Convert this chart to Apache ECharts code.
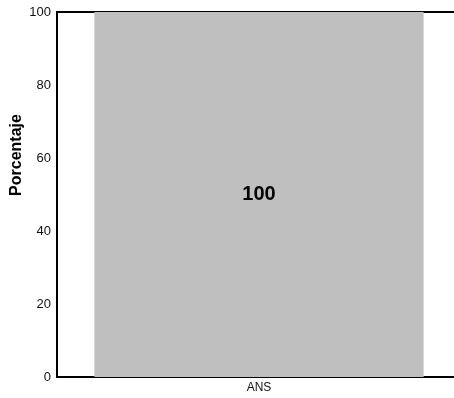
<!DOCTYPE html>
<html>
<head>
<meta charset="utf-8">
<script src="https://cdn.jsdelivr.net/npm/echarts@6/dist/echarts.min.js"></script>
<style>
html, body { margin: 0; padding: 0; background: #fff; overflow: hidden; }
#chart { width: 461px; height: 398px; }
</style>
</head>
<body>
<div id="chart"></div>
<script>
var categories = ['ANS'];
var values = [100];
var yTicks = [0, 20, 40, 60, 80, 100];

var chart = echarts.init(document.getElementById('chart'));
var option = {
    animation: false,
    textStyle: { fontFamily: 'Liberation Sans, Arial, sans-serif' },
    grid: { left: 57, right: 0, top: 12, bottom: 21 },
    xAxis: [{
        type: 'category',
        data: categories,
        position: 'bottom',
        axisLine: { lineStyle: { color: '#000', width: 2 } },
        axisTick: { show: false },
        axisLabel: { color: '#111', fontSize: 12, margin: 5 }
    }, {
        type: 'category',
        data: categories,
        position: 'top',
        axisLine: { onZero: false, lineStyle: { color: '#000', width: 2 } },
        axisTick: { show: false },
        axisLabel: { show: false }
    }],
    yAxis: {
        type: 'value',
        min: yTicks[0],
        max: yTicks[yTicks.length - 1],
        interval: 20,
        name: 'Porcentaje',
        nameLocation: 'middle',
        nameGap: 32,
        nameMoveOverlap: false,
        nameTextStyle: { fontWeight: 'bold', fontSize: 16, color: '#000', padding: [0, 0, 0, 79] },
        axisLine: { show: true, lineStyle: { color: '#000', width: 2 } },
        axisTick: { show: false },
        splitLine: { show: false },
        axisLabel: { color: '#111', fontSize: 13, margin: 6 }
    },
    series: [{
        type: 'bar',
        data: values,
        barWidth: '81.5%',
        itemStyle: { color: '#bfbfbf' },
        label: {
            show: true,
            position: 'inside',
            fontSize: 20,
            fontWeight: 'bold',
            color: '#000'
        }
    }]
};
chart.setOption(option);
</script>
</body>
</html>
